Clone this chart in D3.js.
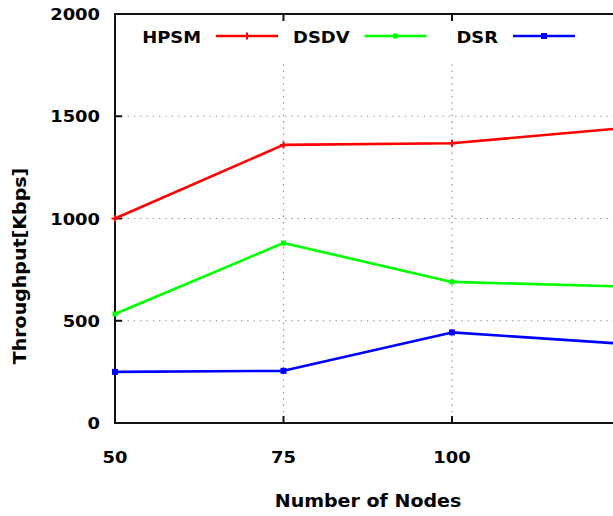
<!DOCTYPE html>
<html>
<head>
<meta charset="utf-8">
<script src="https://cdn.jsdelivr.net/npm/d3@7"></script>
<style>
  body { margin: 0; background: #fff; }
  svg { display: block; overflow: hidden; }
  text { font-family: "DejaVu Sans", sans-serif; font-weight: bold; fill: #000; }
</style>
</head>
<body>
<div id="chart"></div>
<script>
var width = 613,
    height = 516;

// data (last point is cut off at the right edge)
var nodes = [50, 75, 100, 125];
var hpsm = [1000, 1360, 1368, 1441];
var dsdv = [533, 880, 690, 668];
var dsr = [250, 255, 443, 388];
var xTicks = [50, 75, 100];
var yTicks = [0, 500, 1000, 1500, 2000];

var series = [
  { name: "HPSM", values: hpsm, color: "#ff0000", marker: "plus" },
  { name: "DSDV", values: dsdv, color: "#00ff00", marker: "square", size: 5 },
  { name: "DSR", values: dsr, color: "#0000ff", marker: "square", size: 6 }
];

var plotLeft = 115, plotTop = 14, plotBottom = 423;

var svg = d3.select("#chart").append("svg")
  .attr("width", width).attr("height", height);

var x = d3.scaleLinear().domain([50, 100]).range([plotLeft, 452]);
var y = d3.scaleLinear().domain([0, 2000]).range([plotBottom, plotTop]);

// stretched text helper (the source is a bit wide)
function label(g, tx, ty, str, size, anchor) {
  return g.append("text")
    .attr("transform", "translate(" + tx + "," + ty + ") scale(1.12,1)")
    .attr("text-anchor", anchor || "middle")
    .style("font-size", size + "px")
    .text(str);
}

// grid
var grid = svg.append("g")
  .attr("stroke", "#8a8a8a")
  .attr("stroke-width", 1.2)
  .attr("stroke-dasharray", "1.3,5");

grid.selectAll("line.h")
  .data(yTicks.filter(function(d) { return d > 0 && d < 2000; }))
  .enter().append("line")
  .attr("x1", plotLeft).attr("x2", width + 5)
  .attr("y1", function(d) { return y(d); })
  .attr("y2", function(d) { return y(d); });

grid.selectAll("line.v")
  .data(xTicks.filter(function(d) { return d > 50; }))
  .enter().append("line")
  .attr("x1", function(d) { return x(d); })
  .attr("x2", function(d) { return x(d); })
  .attr("y1", plotTop).attr("y2", plotBottom);

// key box hides the grid behind it
svg.append("rect")
  .attr("x", plotLeft + 2).attr("y", plotTop + 2)
  .attr("width", width).attr("height", 44)
  .attr("fill", "#fff");

// axes
var axis = svg.append("g").attr("stroke", "#111").attr("stroke-width", 2).attr("fill", "none");
axis.append("path")
  .attr("d", "M" + (width + 5) + "," + plotTop + "H" + plotLeft + "V" + plotBottom + "H" + (width + 5));

xTicks.filter(function(d) { return d > 50; }).forEach(function(d) {
  axis.append("line")
    .attr("x1", x(d)).attr("x2", x(d)).attr("y1", plotBottom).attr("y2", plotBottom - 7);
  axis.append("line")
    .attr("x1", x(d)).attr("x2", x(d)).attr("y1", plotTop).attr("y2", plotTop + 7);
});

axis.selectAll("line.yt")
  .data(yTicks.filter(function(d) { return d > 0 && d < 2000; }))
  .enter().append("line")
  .attr("x1", plotLeft).attr("x2", plotLeft + 7)
  .attr("y1", function(d) { return y(d); })
  .attr("y2", function(d) { return y(d); });

// tick labels
var labels = svg.append("g");
xTicks.forEach(function(d) {
  label(labels, x(d), 462.5, d, 16);
});
yTicks.forEach(function(d) {
  label(labels, 100, y(d) + 6, d, 16, "end");
});

// axis titles
label(svg, 368, 507, "Number of Nodes", 17);
svg.append("text")
  .attr("transform", "translate(26,266) rotate(-90) scale(1.12,1)")
  .attr("text-anchor", "middle")
  .style("font-size", "17px")
  .text("Throughput[Kbps]");

// series
var line = d3.line()
  .x(function(d, i) { return x(nodes[i]); })
  .y(function(d) { return y(d); });

function drawMarker(g, s, cx, cy) {
  if (s.marker === "plus") {
    g.append("path")
      .attr("d", "M" + (cx - 3.5) + "," + cy + "h7M" + cx + "," + (cy - 3.5) + "v7")
      .attr("stroke", s.color).attr("stroke-width", 2);
  } else {
    g.append("rect")
      .attr("x", cx - s.size / 2).attr("y", cy - s.size / 2)
      .attr("width", s.size).attr("height", s.size)
      .attr("fill", s.color);
  }
}

series.forEach(function(s) {
  var g = svg.append("g");
  g.append("path")
    .datum(s.values)
    .attr("d", line)
    .attr("fill", "none")
    .attr("stroke", s.color)
    .attr("stroke-width", 2.6)
    .attr("stroke-linejoin", "round");
  s.values.forEach(function(v, i) {
    drawMarker(g, s, x(nodes[i]), y(v));
  });
});

// key
var key = svg.append("g");
series.forEach(function(s, i) {
  var lx = 216 + i * 148.5;
  label(key, lx - 15, 42.5, s.name, 16, "end");
  key.append("line")
    .attr("x1", lx).attr("x2", lx + 62)
    .attr("y1", 36).attr("y2", 36)
    .attr("stroke", s.color).attr("stroke-width", 2.6);
  drawMarker(key, s, lx + 31, 36);
});
</script>
</body>
</html>
